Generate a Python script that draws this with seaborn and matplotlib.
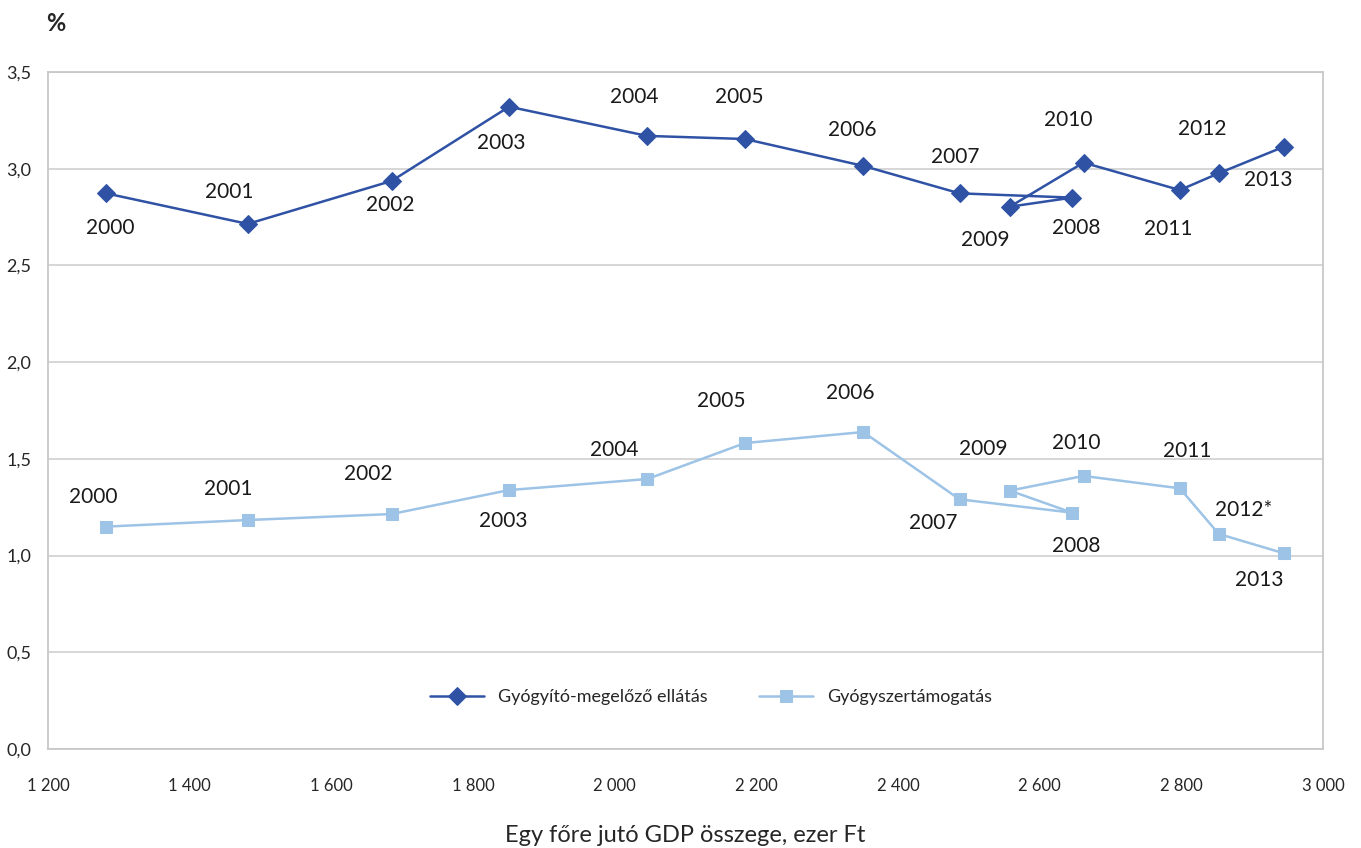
import numpy as np
import pandas as pd
import matplotlib
matplotlib.use("Agg")
import matplotlib.pyplot as plt
import seaborn as sns

# Egy főre jutó GDP (ezer Ft) és a két kiadási arány (%)
evek = ["2000", "2001", "2002", "2003", "2004", "2005", "2006",
        "2007", "2008", "2009", "2010", "2011", "2012", "2013"]
gdp = [1282, 1482, 1685, 1851, 2046, 2184, 2351,
       2487, 2646, 2558, 2662, 2798, 2853, 2945]
gyogyito = [2.873, 2.715, 2.937, 3.321, 3.170, 3.154, 3.015,
            2.873, 2.851, 2.804, 3.032, 2.890, 2.977, 3.114]
gyogyszer = [1.150, 1.184, 1.215, 1.339, 1.396, 1.582, 1.639,
             1.291, 1.222, 1.336, 1.412, 1.348, 1.112, 1.012]
cimkek2 = evek[:12] + ["2012*", "2013"]

# címkék eltolása pontban (dx, dy)
eltol1 = [(3, -25), (-13, 23), (-1, -17), (-6, -26), (-9, 28), (-4, 30), (-8, 26),
          (-3, 26), (3, -22), (-18, -24), (-11, 31), (-8, -28), (-12, 32), (-11, -24)]
eltol2 = [(-9, 21), (-14, 22), (-17, 29), (-4, -22), (-24, 21), (-17, 30), (-9, 28),
          (-19, -17), (3, -24), (-19, 30), (-5, 24), (5, 27), (18, 17), (-18, -19)]

df1 = pd.DataFrame({"gdp": gdp, "ertek": gyogyito})
df2 = pd.DataFrame({"gdp": gdp, "ertek": gyogyszer})

sns.set_style("white")
plt.rcParams["font.family"] = ["Lato", "DejaVu Sans"]

sotet = "#2F52A5"
vilagos = "#9DC3E6"

fig = plt.figure(figsize=(13.61, 8.48), dpi=100)
ax = fig.add_axes([0.0353, 0.1167, 0.9367, 0.7983])

sns.lineplot(data=df1, x="gdp", y="ertek", sort=False, ax=ax, color=sotet,
             marker="D", markersize=9, markeredgecolor=sotet, linewidth=1.8,
             label="Gyógyító-megelőző ellátás")
sns.lineplot(data=df2, x="gdp", y="ertek", sort=False, ax=ax, color=vilagos,
             marker="s", markersize=9, markeredgecolor=vilagos, linewidth=1.8,
             label="Gyógyszertámogatás")

for x, y, t, (dx, dy) in zip(gdp, gyogyito, evek, eltol1):
    ax.annotate(t, (x, y), xytext=(dx, dy), textcoords="offset points",
                ha="center", va="center", fontsize=15, color="#1a1a1a")
for x, y, t, (dx, dy) in zip(gdp, gyogyszer, cimkek2, eltol2):
    ax.annotate(t, (x, y), xytext=(dx, dy), textcoords="offset points",
                ha="center", va="center", fontsize=15, color="#1a1a1a")

ax.set_xlim(1200, 3000)
ax.set_ylim(0, 3.5)
xt = np.arange(1200, 3001, 200)
ax.set_xticks(xt)
ax.set_xticklabels([f"{v:,}".replace(",", " ") for v in xt], fontsize=12)
yt = np.arange(0, 3.51, 0.5)
ax.set_yticks(yt)
ax.set_yticklabels([f"{v:.1f}".replace(".", ",") for v in yt], fontsize=13)
ax.grid(axis="y", color="#D0D0D0", linewidth=1.2)
ax.grid(axis="x", visible=False)
for s in ax.spines.values():
    s.set_color("#C8C8C8")
    s.set_linewidth(1.3)
ax.tick_params(axis="x", direction="out", length=7, width=1, color="#C8C8C8", pad=14)
ax.tick_params(axis="y", direction="out", length=6, width=1, color="#C8C8C8", pad=6)
ax.set_xlabel("Egy főre jutó GDP összege, ezer Ft", fontsize=17, labelpad=22)
ax.set_ylabel("")

fig.text(0.034, 0.972, "%", fontsize=17, fontweight="bold", ha="left", va="center")

ax.legend(loc="center", bbox_to_anchor=(0.52, 0.077), ncol=2, frameon=False,
          fontsize=13, handlelength=3, columnspacing=2.8)

fig.savefig("out.png", dpi=100)
